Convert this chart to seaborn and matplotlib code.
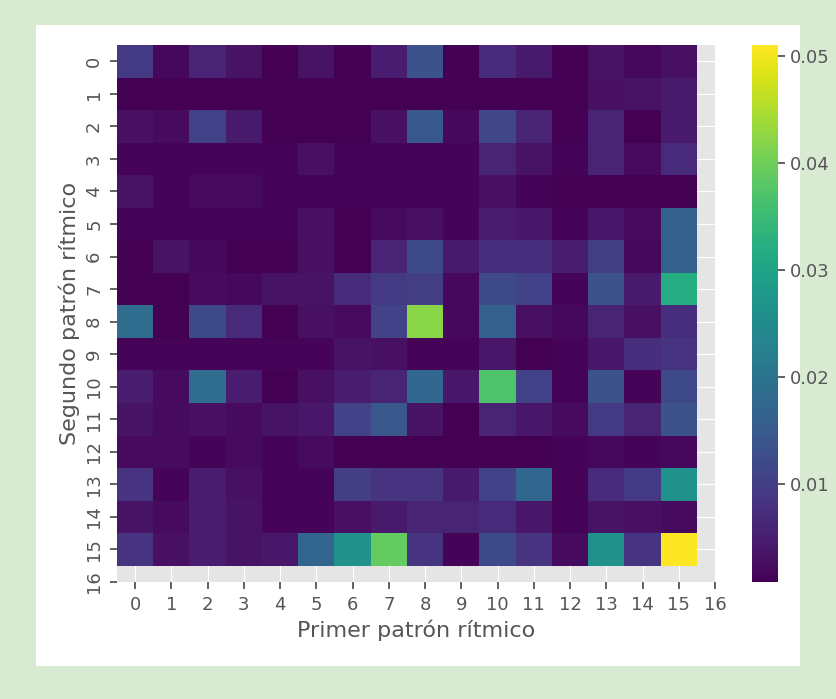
import numpy as np
import pandas as pd
import matplotlib
matplotlib.use('Agg')
import matplotlib.pyplot as plt
from matplotlib.patches import Rectangle
import seaborn as sns

# rows = segundo patron, cols = primer patron
probs = [
    [0.0093, 0.0018, 0.0058, 0.0033, 0.0008, 0.0033, 0.0008, 0.0048, 0.0134, 0.0008, 0.0068, 0.0043, 0.0008, 0.0033, 0.0018, 0.0028],  # 0
    [0.0008, 0.0008, 0.0008, 0.0008, 0.0008, 0.0008, 0.0008, 0.0008, 0.0008, 0.0008, 0.0008, 0.0008, 0.0008, 0.0028, 0.0033, 0.0043],  # 1
    [0.0028, 0.0023, 0.0103, 0.0043, 0.0008, 0.0008, 0.0008, 0.0028, 0.0144, 0.0018, 0.0113, 0.0058, 0.0008, 0.0058, 0.0008, 0.0043],  # 2
    [0.0013, 0.0013, 0.0013, 0.0013, 0.0013, 0.0028, 0.0013, 0.0013, 0.0013, 0.0013, 0.0058, 0.0033, 0.0013, 0.0058, 0.0023, 0.0068],  # 3
    [0.0033, 0.0013, 0.0023, 0.0023, 0.0013, 0.0013, 0.0013, 0.0013, 0.0013, 0.0013, 0.0028, 0.0013, 0.0008, 0.0008, 0.0008, 0.0008],  # 4
    [0.0013, 0.0013, 0.0013, 0.0013, 0.0013, 0.0028, 0.0008, 0.0023, 0.0028, 0.0013, 0.0048, 0.0038, 0.0013, 0.0038, 0.0023, 0.0159],  # 5
    [0.0008, 0.0033, 0.0018, 0.0008, 0.0008, 0.0028, 0.0008, 0.0058, 0.0118, 0.0043, 0.0073, 0.0073, 0.0048, 0.0098, 0.0018, 0.0159],  # 6
    [0.0008, 0.0008, 0.0023, 0.0018, 0.0033, 0.0033, 0.0068, 0.0093, 0.0098, 0.0018, 0.0118, 0.0108, 0.0013, 0.0134, 0.0043, 0.0319],  # 7
    [0.0184, 0.0008, 0.0118, 0.0068, 0.0008, 0.0028, 0.0023, 0.0108, 0.0420, 0.0018, 0.0159, 0.0028, 0.0018, 0.0058, 0.0028, 0.0073],  # 8
    [0.0013, 0.0013, 0.0013, 0.0013, 0.0013, 0.0013, 0.0033, 0.0028, 0.0013, 0.0013, 0.0038, 0.0008, 0.0013, 0.0038, 0.0073, 0.0083],  # 9
    [0.0048, 0.0023, 0.0184, 0.0048, 0.0008, 0.0028, 0.0048, 0.0058, 0.0174, 0.0038, 0.0369, 0.0108, 0.0013, 0.0134, 0.0013, 0.0118],  # 10
    [0.0033, 0.0023, 0.0028, 0.0023, 0.0033, 0.0038, 0.0108, 0.0144, 0.0033, 0.0008, 0.0058, 0.0038, 0.0023, 0.0093, 0.0058, 0.0134],  # 11
    [0.0023, 0.0023, 0.0013, 0.0023, 0.0013, 0.0023, 0.0008, 0.0008, 0.0008, 0.0008, 0.0008, 0.0008, 0.0013, 0.0018, 0.0013, 0.0018],  # 12
    [0.0083, 0.0013, 0.0048, 0.0028, 0.0013, 0.0013, 0.0098, 0.0083, 0.0083, 0.0043, 0.0108, 0.0174, 0.0013, 0.0068, 0.0093, 0.0259],  # 13
    [0.0033, 0.0023, 0.0048, 0.0033, 0.0013, 0.0013, 0.0028, 0.0043, 0.0058, 0.0058, 0.0068, 0.0038, 0.0013, 0.0033, 0.0028, 0.0023],  # 14
    [0.0083, 0.0028, 0.0048, 0.0033, 0.0038, 0.0169, 0.0259, 0.0390, 0.0083, 0.0013, 0.0118, 0.0083, 0.0023, 0.0259, 0.0083, 0.0510],  # 15
]
tick_labels = [str(i) for i in range(17)]
x_label = 'Primer patrón rítmico'
y_label = 'Segundo patrón rítmico'

plt.style.use('ggplot')

fig = plt.figure(figsize=(8.37, 6.99), dpi=100, facecolor='#d9ead3')
# white panel like the notebook output cell
fig.add_artist(Rectangle((36 / 837, 33 / 699), 764 / 837, 641 / 699,
                         transform=fig.transFigure, facecolor='white',
                         edgecolor='none', zorder=-10))

ax = fig.add_axes([117 / 837, 117 / 699, 598 / 837, 537 / 699])
cax = fig.add_axes([752 / 837, 117 / 699, 26 / 837, 537 / 699])

df = pd.DataFrame(probs)
sns.heatmap(df, cmap='viridis', ax=ax, cbar_ax=cax)

ax.set_xticks(np.arange(17) + 0.5)
ax.set_xticklabels(tick_labels, rotation=0, fontsize=13)
ax.set_yticks(np.arange(17) + 0.5)
ax.set_yticklabels(tick_labels, rotation=90, fontsize=13, va='center')
ax.set_xlabel(x_label, fontsize=16, color='#555555', labelpad=4)
ax.set_ylabel(y_label, fontsize=16, color='#555555', labelpad=4)
ax.tick_params(length=5, width=1.3, color='#555555', pad=5)

cax.tick_params(labelsize=13, length=5, width=1.3, color='#555555', labelcolor='#555555')

fig.savefig('out.png', dpi=100, facecolor=fig.get_facecolor())
